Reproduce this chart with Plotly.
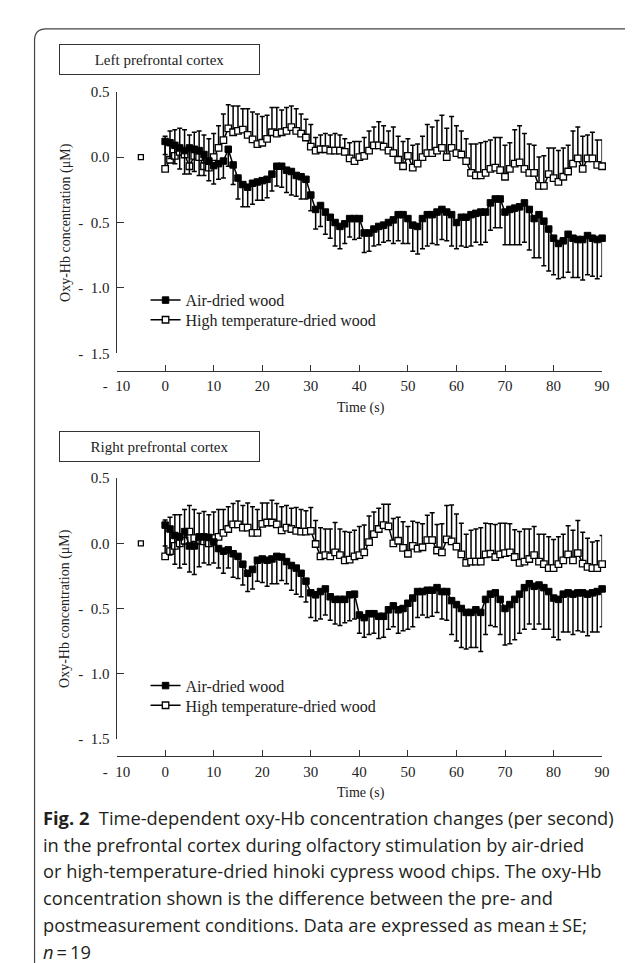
import plotly.graph_objects as go

# ---------------- data ----------------
time_s = list(range(0, 91))
baseline_t = [-5]
baseline_val = [0.0]

left_air = [0.12, 0.11, 0.09, 0.07, 0.05, 0.07, 0.06, 0.05, 0.02, -0.03,
            -0.065, -0.05, -0.03, 0.06, -0.06, -0.16, -0.21, -0.23, -0.20, -0.19,
            -0.18, -0.17, -0.13, -0.07, -0.07, -0.10, -0.11, -0.14, -0.15, -0.17,
            -0.29, -0.40, -0.37, -0.42, -0.46, -0.50, -0.53, -0.51, -0.47, -0.47,
            -0.47, -0.58, -0.58, -0.55, -0.53, -0.52, -0.50, -0.48, -0.44, -0.44,
            -0.47, -0.52, -0.53, -0.47, -0.44, -0.44, -0.42, -0.40, -0.42, -0.44,
            -0.50, -0.46, -0.46, -0.44, -0.43, -0.42, -0.42, -0.35, -0.32, -0.32,
            -0.42, -0.40, -0.39, -0.38, -0.35, -0.40, -0.47, -0.44, -0.49, -0.55,
            -0.62, -0.66, -0.64, -0.59, -0.62, -0.63, -0.63, -0.60, -0.62, -0.63, -0.62]
left_air_se = [0.10, 0.12, 0.14, 0.16, 0.18, 0.20, 0.17, 0.19, 0.16, 0.15, 0.14, 0.12, 0.13,
               0.13, 0.15,
               0.16, 0.17, 0.15, 0.16, 0.14, 0.15, 0.14, 0.13,
               0.15, 0.16, 0.17, 0.18, 0.16, 0.17, 0.15,
               0.12, 0.15, 0.16, 0.17, 0.16, 0.18, 0.17, 0.15, 0.14, 0.16,
               0.15, 0.15, 0.14, 0.13, 0.14, 0.13, 0.14,
               0.18, 0.20, 0.22, 0.19, 0.20, 0.21, 0.23, 0.24, 0.22, 0.25, 0.23, 0.22, 0.24,
               0.20, 0.22, 0.23, 0.24, 0.22, 0.25, 0.23,
               0.21, 0.22, 0.22,
               0.25, 0.27, 0.28, 0.29, 0.30, 0.31, 0.30, 0.33,
               0.34, 0.32, 0.28, 0.27, 0.28, 0.29, 0.30, 0.29, 0.31, 0.30, 0.29, 0.30, 0.29]
left_ht = [-0.09, -0.02, 0.01, 0.04, 0.02, -0.07, 0.01, 0.00, -0.07, -0.08,
           0.00, 0.07, 0.13, 0.22, 0.19, 0.20, 0.21, 0.17, 0.135, 0.10,
           0.11, 0.14, 0.19, 0.18, 0.19, 0.20, 0.23, 0.20, 0.18, 0.15,
           0.08, 0.05, 0.06, 0.06, 0.05, 0.05, 0.05, 0.04, -0.01, -0.03,
           0.00, 0.01, 0.05, 0.09, 0.09, 0.08, 0.05, 0.03, -0.02, -0.07,
           0.01, -0.08, -0.05, 0.00, 0.03, 0.03, 0.05, 0.07, 0.00, 0.07,
           0.03, 0.02, -0.03, -0.12, -0.14, -0.14, -0.12, -0.09, -0.08, -0.10,
           -0.15, -0.09, -0.05, -0.04, -0.09, -0.12, -0.12, -0.22, -0.22, -0.13,
           -0.16, -0.19, -0.15, -0.11, -0.05, -0.01, -0.09, -0.01, -0.01, -0.06, -0.07]
left_ht_se = [0.25, 0.22, 0.20, 0.18, 0.19, 0.24, 0.18, 0.20, 0.24, 0.22, 0.18, 0.17, 0.20,
              0.18, 0.20, 0.19, 0.16, 0.20, 0.21, 0.23, 0.20, 0.18, 0.19, 0.20, 0.17, 0.18, 0.16, 0.17, 0.15, 0.14, 0.17,
              0.10, 0.11, 0.12, 0.12, 0.13, 0.12, 0.10, 0.12, 0.15, 0.12,
              0.14, 0.15, 0.14, 0.18, 0.16, 0.15, 0.20, 0.18,
              0.19, 0.13, 0.17, 0.15, 0.16, 0.22, 0.20, 0.23, 0.25, 0.22, 0.24, 0.21, 0.18, 0.17,
              0.22, 0.24, 0.25, 0.24, 0.22, 0.23, 0.25, 0.24, 0.20, 0.26, 0.28, 0.27, 0.22, 0.21,
              0.22, 0.23, 0.20, 0.23, 0.24, 0.22, 0.20, 0.25, 0.24, 0.25, 0.18, 0.20, 0.19, 0.20]

right_air = [0.14, 0.11, 0.06, 0.05, 0.09, -0.02, -0.02, 0.05, 0.05, 0.045,
             0.01, -0.04, -0.06, -0.05, -0.08, -0.10, -0.16, -0.23, -0.20, -0.13,
             -0.12, -0.13, -0.12, -0.10, -0.105, -0.14, -0.17, -0.19, -0.23, -0.29,
             -0.38, -0.395, -0.37, -0.35, -0.41, -0.43, -0.43, -0.43, -0.395, -0.39,
             -0.55, -0.57, -0.54, -0.54, -0.56, -0.56, -0.51, -0.48, -0.51, -0.50,
             -0.46, -0.42, -0.37, -0.37, -0.36, -0.36, -0.34, -0.37, -0.37, -0.44,
             -0.47, -0.50, -0.53, -0.53, -0.51, -0.53, -0.43, -0.39, -0.38, -0.43,
             -0.50, -0.47, -0.43, -0.39, -0.34, -0.31, -0.33, -0.32, -0.34, -0.37,
             -0.42, -0.43, -0.39, -0.38, -0.39, -0.38, -0.38, -0.39, -0.38, -0.37, -0.35]
right_air_se = [0.16, 0.20, 0.22, 0.24, 0.25, 0.20, 0.22, 0.23, 0.20, 0.21,
                0.16, 0.15, 0.17, 0.14, 0.18, 0.17, 0.16, 0.14, 0.15, 0.16, 0.18,
                0.20, 0.19, 0.21, 0.18, 0.17, 0.19, 0.20, 0.18, 0.16, 0.19,
                0.20, 0.21, 0.20, 0.18, 0.19, 0.20, 0.18, 0.20, 0.19,
                0.14, 0.15, 0.16, 0.15, 0.17, 0.16, 0.15,
                0.16, 0.18, 0.17, 0.20, 0.22, 0.20, 0.18, 0.21, 0.20, 0.19, 0.21, 0.22,
                0.26, 0.28, 0.30, 0.28, 0.27, 0.29, 0.30, 0.27,
                0.24, 0.26, 0.27, 0.28, 0.30, 0.31, 0.30, 0.32, 0.31, 0.33, 0.30, 0.32,
                0.29, 0.30, 0.31, 0.29, 0.30, 0.31, 0.29, 0.30, 0.32, 0.30, 0.31, 0.29]
right_ht = [-0.10, -0.06, -0.02, 0.00, 0.02, 0.09, 0.04, 0.02, 0.015, 0.00,
            0.04, 0.05, 0.08, 0.11, 0.145, 0.145, 0.12, 0.12, 0.08, 0.08,
            0.15, 0.16, 0.16, 0.145, 0.10, 0.12, 0.11, 0.095, 0.09, 0.09,
            0.095, -0.005, -0.10, -0.09, -0.10, -0.07, -0.09, -0.13, -0.125, -0.10,
            -0.09, -0.07, 0.01, 0.07, 0.11, 0.14, 0.13, 0.00, 0.02, -0.035,
            -0.08, -0.02, -0.04, -0.03, 0.025, 0.025, -0.055, -0.07, 0.03, 0.015,
            -0.025, -0.085, -0.15, -0.14, -0.14, -0.14, -0.085, -0.08, -0.105, -0.085,
            -0.075, -0.07, -0.105, -0.15, -0.14, -0.12, -0.09, -0.14, -0.16, -0.19,
            -0.19, -0.16, -0.13, -0.085, -0.13, -0.075, -0.155, -0.18, -0.19, -0.19, -0.16]
right_ht_se = [0.28, 0.26, 0.24, 0.22, 0.24, 0.20, 0.22, 0.21, 0.23, 0.22, 0.20,
               0.21, 0.18, 0.17, 0.16, 0.18, 0.17, 0.19, 0.20, 0.18, 0.16, 0.15, 0.17, 0.16, 0.18, 0.17, 0.16, 0.18, 0.17, 0.16, 0.18,
               0.18, 0.22, 0.20, 0.21, 0.23, 0.20, 0.22, 0.21, 0.20, 0.22, 0.21, 0.20, 0.17,
               0.16, 0.16, 0.17, 0.19, 0.18, 0.20, 0.21, 0.19, 0.20, 0.18, 0.19, 0.21, 0.20, 0.22, 0.26, 0.28, 0.25, 0.24, 0.22,
               0.24, 0.25, 0.26, 0.24, 0.23, 0.25, 0.24, 0.23, 0.22, 0.21, 0.24, 0.25, 0.23, 0.22,
               0.21, 0.23, 0.24, 0.22, 0.21, 0.20, 0.22, 0.23, 0.25, 0.24, 0.22, 0.20, 0.21, 0.22]

series_names = ["Air-dried wood", "High temperature-dried wood"]
panel_titles = ["Left prefrontal cortex", "Right prefrontal cortex"]
y_tick_vals = [0.5, 0.0, -0.5, -1.0, -1.5]
y_tick_text = ["0.5", "0.0", "-\u00a0\u00a00.5", "-\u00a0\u00a01.0", "-\u00a0\u00a01.5"]
x_tick_vals = [-10, 0, 10, 20, 30, 40, 50, 60, 70, 80, 90]
x_tick_text = ["-\u00a0\u00a010", "0", "10", "20", "30", "40", "50", "60", "70", "80", "90"]
y_title = "Oxy-Hb concentration (\u03bcM)"
x_title = "Time (s)"
caption_lines = [
    "<b>Fig. 2</b>  Time-dependent oxy-Hb concentration changes (per second)",
    "in the prefrontal cortex during olfactory stimulation by air-dried",
    "or high-temperature-dried hinoki cypress wood chips. The oxy-Hb",
    "concentration shown is the difference between the pre- and",
    "postmeasurement conditions. Data are expressed as mean\u2009\u00b1\u2009SE;",
    "<i>n</i>\u2009=\u200919",
]

# ---------------- layout helpers ----------------
W, H = 633, 963
SERIF = "Liberation Serif, Times New Roman, serif"
SANS = "Open Sans, Noto Sans, sans-serif"


def px(x):
    return x / W


def py(y):
    return 1 - y / H


fig = go.Figure()

panels = [
    dict(air=left_air, air_se=left_air_se, ht=left_ht, ht_se=left_ht_se,
         xa="x", ya="y", legends=("legend", "legend2"),
         top=77, bottom=343, xaxis_y=361, box_top=28),
    dict(air=right_air, air_se=right_air_se, ht=right_ht, ht_se=right_ht_se,
         xa="x2", ya="y2", legends=("legend3", "legend4"),
         top=470, bottom=735, xaxis_y=753, box_top=422),
]

zeros = [0.0] * len(time_s)
for i, p in enumerate(panels):
    fig.add_trace(go.Scatter(
        x=baseline_t, y=baseline_val, mode="markers", xaxis=p["xa"], yaxis=p["ya"],
        marker=dict(symbol="square", size=5, color="white", line=dict(color="black", width=1.3)),
        showlegend=False, cliponaxis=False, hoverinfo="skip"))
    fig.add_trace(go.Scatter(
        x=time_s, y=p["ht"], mode="lines+markers", name=series_names[1],
        xaxis=p["xa"], yaxis=p["ya"], legend=p["legends"][1],
        line=dict(color="black", width=1.5),
        marker=dict(symbol="square", size=6.5, color="white", line=dict(color="black", width=1.3)),
        error_y=dict(type="data", symmetric=False, array=p["ht_se"], arrayminus=zeros,
                     color="black", thickness=1.5, width=2.5),
        cliponaxis=False))
    fig.add_trace(go.Scatter(
        x=time_s, y=p["air"], mode="lines+markers", name=series_names[0],
        xaxis=p["xa"], yaxis=p["ya"], legend=p["legends"][0],
        line=dict(color="black", width=1.5),
        marker=dict(symbol="square", size=6.5, color="black", line=dict(color="black", width=1)),
        error_y=dict(type="data", symmetric=False, array=zeros, arrayminus=p["air_se"],
                     color="black", thickness=1.5, width=2.5),
        cliponaxis=False))

axis_common = dict(showgrid=False, zeroline=False, showline=True, linecolor="#333",
                   linewidth=1.2, ticks="inside", tickcolor="#333", tickwidth=1.2,
                   tickfont=dict(family=SERIF, size=15, color="#222"))

layout = dict(
    width=W, height=H, margin=dict(l=0, r=0, t=0, b=0),
    paper_bgcolor="white", plot_bgcolor="white",
    showlegend=True,
)
for i, p in enumerate(panels):
    sx = "" if i == 0 else "2"
    layout["xaxis" + sx] = dict(
        axis_common, range=[-10, 90], domain=[px(98), px(601)],
        anchor="free", position=py(p["xaxis_y"]),
        tickvals=x_tick_vals, ticktext=x_tick_text, ticklen=6, ticklabelstandoff=1)
    layout["yaxis" + sx] = dict(
        axis_common, range=[-1.5, 0.5], domain=[py(p["bottom"]), py(p["top"])],
        anchor="x" + sx, tickvals=y_tick_vals, ticktext=y_tick_text, ticklen=7,
        ticklabelstandoff=3)
    for k, lg in enumerate(p["legends"]):
        row_y = p["bottom"] - 54 + k * 20
        layout[lg] = dict(
            x=px(128), y=py(row_y), xanchor="left", yanchor="middle",
            bgcolor="rgba(0,0,0,0)", font=dict(family=SERIF, size=16, color="#222"),
            itemwidth=30)

fig.update_layout(**layout)

annotations = []
shapes = []
for i, p in enumerate(panels):
    annotations.append(dict(
        text=panel_titles[i], xref="paper", yref="paper",
        x=px(38), y=py(p["box_top"]), xanchor="left", yanchor="top",
        showarrow=False, font=dict(family=SERIF, size=15, color="#222"),
        bordercolor="#333", borderwidth=1, width=197, height=27, bgcolor="white"))
    annotations.append(dict(
        text=y_title, xref="paper", yref="paper", textangle=-90,
        x=px(45), y=py((p["top"] + p["bottom"]) / 2), xanchor="center", yanchor="middle",
        showarrow=False, font=dict(family=SERIF, size=14, color="#222")))
    annotations.append(dict(
        text=x_title, xref="paper", yref="paper",
        x=px(351), y=py(p["xaxis_y"] + 27), xanchor="center", yanchor="top",
        showarrow=False, font=dict(family=SERIF, size=14, color="#222")))

cap_first = 815
cap_step = 27.2
for k, line in enumerate(caption_lines):
    annotations.append(dict(
        text=line, xref="paper", yref="paper", x=px(20), y=py(cap_first + k * cap_step),
        xanchor="left", yanchor="middle", showarrow=False, align="left",
        font=dict(family=SANS, size=18.3, color="#231f20")))

r = 12
x0, y0 = px(13), py(13)
shapes.append(dict(
    type="path", xref="paper", yref="paper",
    path=f"M {x0},0 L {x0},{py(13 + r)} Q {x0},{y0} {px(13 + r)},{y0} L 1.01,{y0}",
    line=dict(color="#444", width=1.2)))

fig.update_layout(annotations=annotations, shapes=shapes)
fig.write_html("out.html")
